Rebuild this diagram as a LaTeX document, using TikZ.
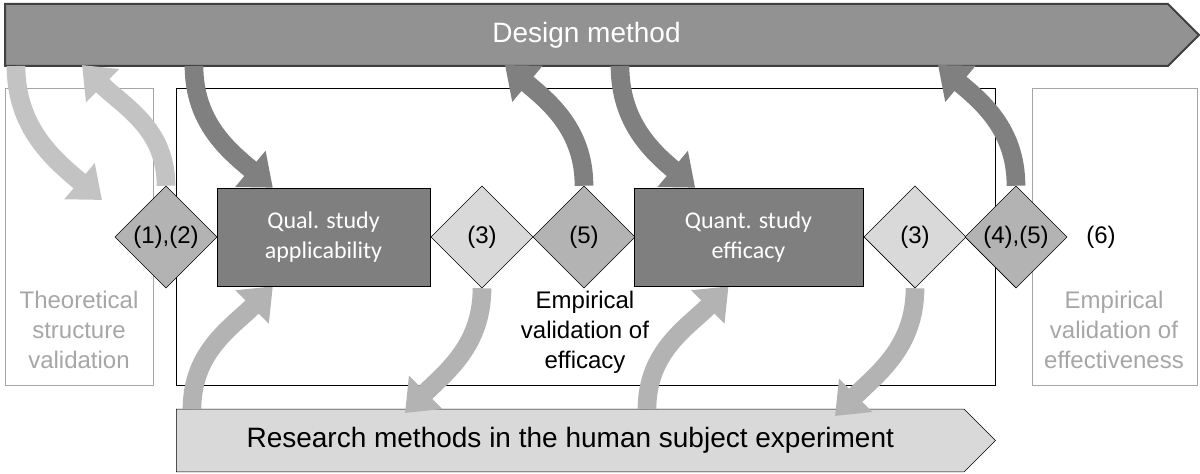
\documentclass[tikz,border=0pt]{standalone}
\usepackage{fontspec}
\setmainfont{Liberation Sans}
\newfontfamily\calibri{Carlito}
\usetikzlibrary{arrows.meta,shapes.geometric,shapes.symbols}
\definecolor{dmfill}{HTML}{929292}
\definecolor{dmline}{HTML}{404040}
\definecolor{rmfill}{HTML}{D9D9D9}
\definecolor{studyfill}{HTML}{7F7F7F}
\definecolor{gatedark}{HTML}{B3B3B3}
\definecolor{gatelight}{HTML}{D9D9D9}
\definecolor{sidegray}{HTML}{A6A6A6}
\definecolor{bendlight}{HTML}{C3C3C3}
\definecolor{benddark}{HTML}{808080}
\definecolor{bendmid}{HTML}{B3B3B3}
\pgfdeclarelayer{back}
\pgfdeclarelayer{mid}
\pgfsetlayers{back,mid,main}

\begin{document}
\begin{tikzpicture}[x=0.75pt,y=0.75pt,
  bigarrow/.style={signal,signal to=east,inner sep=0pt,anchor=west,font=\fontsize{21}{25}\selectfont},
  study/.style={draw=black,fill=studyfill,text=white,align=center,inner sep=0pt,
    font=\calibri\fontsize{18}{22}\selectfont},
  gate/.style={diamond,draw=black,minimum width=76.5pt,minimum height=76.5pt,inner sep=0pt,
    font=\fontsize{18}{22}\selectfont},
  side/.style={align=center,font=\fontsize{18}{22.5}\selectfont},
  curvearrow/.style={line width=14pt,-{Triangle[width=34pt,length=22pt]}}]
\useasboundingbox (0,0) rectangle (1200,474);

\node[gate,fill=gatedark] (g12) at (166,237) {(1),(2)};
\node[study,minimum width=159.75pt,minimum height=73.5pt] (qual) at (323.5,237) {Qual. study\\applicability};
\node[gate,fill=gatelight] (g3a) at (482,237) {(3)};
\node[gate,fill=gatedark] (g5) at (584,237) {(5)};
\node[study,minimum width=171.75pt,minimum height=73.5pt] (quant) at (748.5,237) {Quant. study\\efficacy};
\node[gate,fill=gatelight] (g3b) at (915,237) {(3)};
\node[gate,fill=gatedark] (g45) at (1016,237) {(4),(5)};
\node[font=\fontsize{18}{22}\selectfont] (six) at (1101,237) {(6)};

\begin{pgfonlayer}{back}
\node[bigarrow,draw=dmline,line width=1.5pt,fill=dmfill,text=white,
  minimum width=895.5pt,minimum height=46.5pt] (design) at (4,439) {Design method};
\node[bigarrow,draw=black,fill=rmfill,
  minimum width=614.5pt,minimum height=47pt] (research) at (176,33.5)
  {Research methods in the human subject experiment};
\draw[sidegray] (5,89) rectangle (153,386);
\draw[black] (176,89) rectangle (995,386);
\draw[sidegray] (1032,89) rectangle (1197,386);
\node[side,text=sidegray] (theory) at (79,144) {Theoretical\\structure\\validation};
\node[side] (efficacy) at (585,142) {Empirical\\validation of\\efficacy};
\node[side,text=sidegray] (effect) at (1114,144) {Empirical\\validation of\\effectiveness};
\end{pgfonlayer}

\coordinate (dm1) at (16,408);
\coordinate (dm2) at (82,409);
\coordinate (dm3) at (194,408);
\coordinate (dm4) at (505,409);
\coordinate (dm5) at (620,408);
\coordinate (dm6) at (938,409);
\coordinate (tv) at (102,274);
\coordinate (rm1) at (192,65);
\coordinate (rm2) at (405,61);
\coordinate (rm3) at (647,65);
\coordinate (rm4) at (835,58);

\begin{pgfonlayer}{mid}
\draw[curvearrow,bendlight] (dm1) to[out=-90,in=140] (tv);
\draw[curvearrow,bendlight] (g12.north) to[out=90,in=-45] (dm2);
\draw[curvearrow,benddark] (dm3) to[out=-90,in=140] ([xshift=-38pt]qual.north);
\draw[curvearrow,benddark] (g5.north) to[out=90,in=-40] (dm4);
\draw[curvearrow,benddark] (dm5) to[out=-90,in=140] ([xshift=-40pt]quant.north);
\draw[curvearrow,benddark] (g45.north) to[out=90,in=-40] (dm6);
\draw[curvearrow,bendmid] (rm1) to[out=90,in=-135] ([xshift=-38pt]qual.south);
\draw[curvearrow,bendmid] (g3a.south) to[out=-90,in=45] (rm2);
\draw[curvearrow,bendmid] (rm3) to[out=90,in=-135] ([xshift=-15pt]quant.south);
\draw[curvearrow,bendmid] (g3b.south) to[out=-90,in=45] (rm4);
\end{pgfonlayer}
\end{tikzpicture}
\end{document}
